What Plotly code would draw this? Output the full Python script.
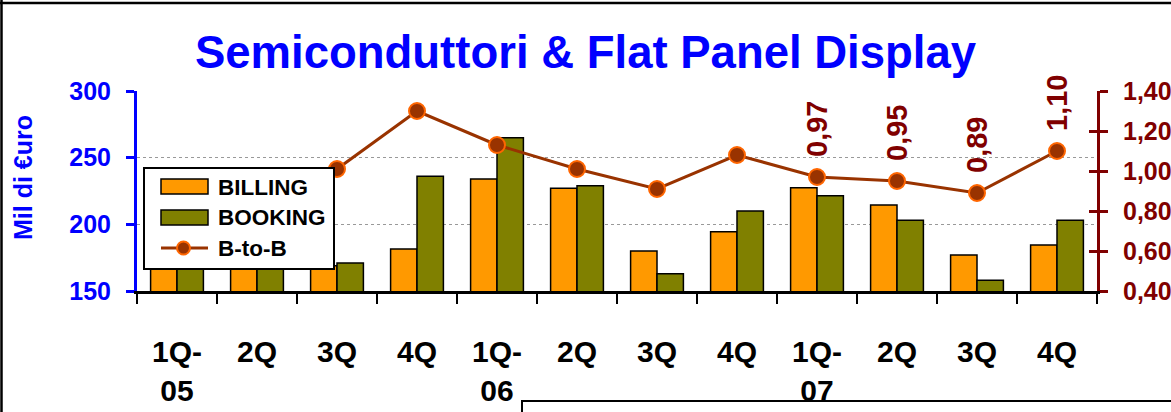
import plotly.graph_objects as go

# ---------------- data ----------------
categories = ["1Q-<br>05", "2Q", "3Q", "4Q", "1Q-<br>06", "2Q", "3Q", "4Q", "1Q-<br>07", "2Q", "3Q", "4Q"]
cat_ids = ["1Q05", "2Q05", "3Q05", "4Q05", "1Q06", "2Q06", "3Q06", "4Q06", "1Q07", "2Q07", "3Q07", "4Q07"]
billing = [188, 186, 169, 181.5, 234, 227, 180, 194.5, 227.5, 214.5, 177, 184.5]
booking = [182, 176, 171, 236, 265, 229, 163, 210, 221.5, 203, 158, 203]
btb = [0.97, 0.95, 1.01, 1.30, 1.13, 1.01, 0.91, 1.08, 0.97, 0.95, 0.89, 1.10]
btb_labelled = ["1Q07", "2Q07", "3Q07", "4Q07"]
left_ticks = [150, 200, 250, 300]
right_ticks = [0.4, 0.6, 0.8, 1.0, 1.2, 1.4]

# ---------------- style ----------------
FONT = "Liberation Sans"
BLUE = "#0000FF"
DRED = "#800000"
ORANGE = "#FF9900"
OLIVE = "#808000"
LINEC = "#993300"

W, H = 1171, 412
L, R, T, B = 137, 1097, 91, 291


def px_x(px):
    return (px - L) / (R - L)


def px_y(py):
    return (B - py) / (B - T)


fig = go.Figure()
fig.add_trace(go.Bar(x=cat_ids, y=billing, name="BILLING", marker=dict(color=ORANGE, line=dict(color="black", width=1.5)), showlegend=False))
fig.add_trace(go.Bar(x=cat_ids, y=booking, name="BOOKING", marker=dict(color=OLIVE, line=dict(color="black", width=1.5)), showlegend=False))
fig.add_trace(go.Scatter(x=cat_ids, y=btb, name="B-to-B", yaxis="y2", mode="lines+markers",
                         line=dict(color=LINEC, width=3),
                         marker=dict(size=16, color=LINEC, line=dict(color="#FF6600", width=2)),
                         showlegend=False))
fig.add_trace(go.Scatter(x=[cat_ids[0]], y=[None], yaxis="y3", showlegend=False, hoverinfo="skip"))

annotations = []
for c, v in zip(cat_ids, btb):
    if c in btb_labelled:
        annotations.append(dict(x=c, y=v, xref="x", yref="y2", text=f"{v:.2f}".replace(".", ","),
                                textangle=-90, showarrow=False, yanchor="bottom", xanchor="center",
                                yshift=18, font=dict(family=FONT, size=29, color=DRED, weight="bold")))

# y-axis title
annotations.append(dict(x=px_x(23), y=px_y(178), xref="paper", yref="paper", text="Mil di €uro",
                        textangle=-90, showarrow=False, xanchor="center", yanchor="middle",
                        font=dict(family=FONT, size=25, color=BLUE, weight="bold")))

# custom legend
shapes = []
shapes.append(dict(type="rect", xref="paper", yref="paper", x0=px_x(144), x1=px_x(334), y0=px_y(269), y1=px_y(168),
                   fillcolor="white", line=dict(color="black", width=2), layer="above"))
shapes.append(dict(type="rect", xref="paper", yref="paper", x0=px_x(161), x1=px_x(208), y0=px_y(194), y1=px_y(179),
                   fillcolor=ORANGE, line=dict(color="black", width=1.5), layer="above"))
shapes.append(dict(type="rect", xref="paper", yref="paper", x0=px_x(161), x1=px_x(208), y0=px_y(225), y1=px_y(210),
                   fillcolor=OLIVE, line=dict(color="black", width=1.5), layer="above"))
shapes.append(dict(type="line", xref="paper", yref="paper", x0=px_x(161), x1=px_x(208), y0=px_y(248), y1=px_y(248),
                   line=dict(color=LINEC, width=3), layer="above"))
shapes.append(dict(type="circle", xref="paper", yref="paper", x0=px_x(177), x1=px_x(190), y0=px_y(254.5), y1=px_y(241.5),
                   fillcolor=LINEC, line=dict(color="#FF6600", width=2), layer="above"))
for name, yy in [("BILLING", 187), ("BOOKING", 217), ("B-to-B", 248)]:
    annotations.append(dict(x=px_x(216), y=px_y(yy), xref="paper", yref="paper", text=name, showarrow=False,
                            xanchor="left", yanchor="middle",
                            font=dict(family=FONT, size=22.5, color="black", weight="bold")))

# frame lines
shapes.append(dict(type="line", xref="paper", yref="paper", x0=px_x(0), x1=px_x(1175), y0=px_y(3), y1=px_y(3),
                   line=dict(color="black", width=2.5)))
shapes.append(dict(type="line", xref="paper", yref="paper", x0=px_x(1.5), x1=px_x(1.5), y0=px_y(0), y1=px_y(415),
                   line=dict(color="black", width=2.5)))
shapes.append(dict(type="path", xref="paper", yref="paper",
                   path=f"M {px_x(522)} {px_y(420)} L {px_x(522)} {px_y(401)} L {px_x(1180)} {px_y(401)}",
                   line=dict(color="black", width=2)))

fig.update_layout(
    width=W, height=H,
    margin=dict(l=L, r=W - R, t=T, b=H - B, autoexpand=False),
    paper_bgcolor="white", plot_bgcolor="white",
    separators=",.",
    barmode="group", bargap=0.34, bargroupgap=0,
    font=dict(family=FONT),
    title=dict(text="Semiconduttori & Flat Panel Display", x=0.5, xanchor="center", xref="container",
               y=1 - 52 / H, yanchor="middle", yref="container",
               font=dict(family=FONT, size=45.5, color=BLUE, weight="bold")),
    xaxis=dict(type="category", tickmode="array", tickvals=cat_ids, ticktext=categories, automargin=False,
               range=[-0.5, len(cat_ids) - 0.5],
               tickson="boundaries", ticks="outside", ticklen=10, tickwidth=2, tickcolor="black",
               showline=True, linecolor="black", linewidth=3, showgrid=False,
               tickfont=dict(family=FONT, size=30, color="black", weight="bold"),
               ticklabelstandoff=32),
    yaxis=dict(range=[150, 300], tickvals=left_ticks, showline=True, linecolor=BLUE, linewidth=3, automargin=False,
               ticks="outside", ticklen=8, tickwidth=3, tickcolor=BLUE,
               showgrid=True, gridcolor="#999999", griddash="dot", gridwidth=1, zeroline=False,
               tickfont=dict(family=FONT, size=25, color=BLUE, weight="bold"), ticklabelstandoff=10),
    yaxis2=dict(range=[0.4, 1.4], tickvals=right_ticks, tickformat=".2f", overlaying="y", side="right",
                automargin=False,
                showline=True, linecolor=DRED, linewidth=3, ticks="outside", ticklen=8, tickwidth=3,
                tickcolor=DRED, showgrid=False, zeroline=False,
                tickfont=dict(family=FONT, size=25, color=DRED, weight="bold"), ticklabelstandoff=10),
    yaxis3=dict(range=[0.4, 1.4], tickvals=right_ticks, overlaying="y", side="right", anchor="x",
                automargin=False,
                showline=False, ticks="inside", ticklen=8, tickwidth=3, tickcolor=DRED,
                showticklabels=False, showgrid=False, zeroline=False),
    annotations=annotations,
    shapes=shapes,
    showlegend=False,
)

fig.write_html("out.html", config={"displayModeBar": False},
               post_script="document.body.style.margin='0';document.body.style.overflow='hidden';")
